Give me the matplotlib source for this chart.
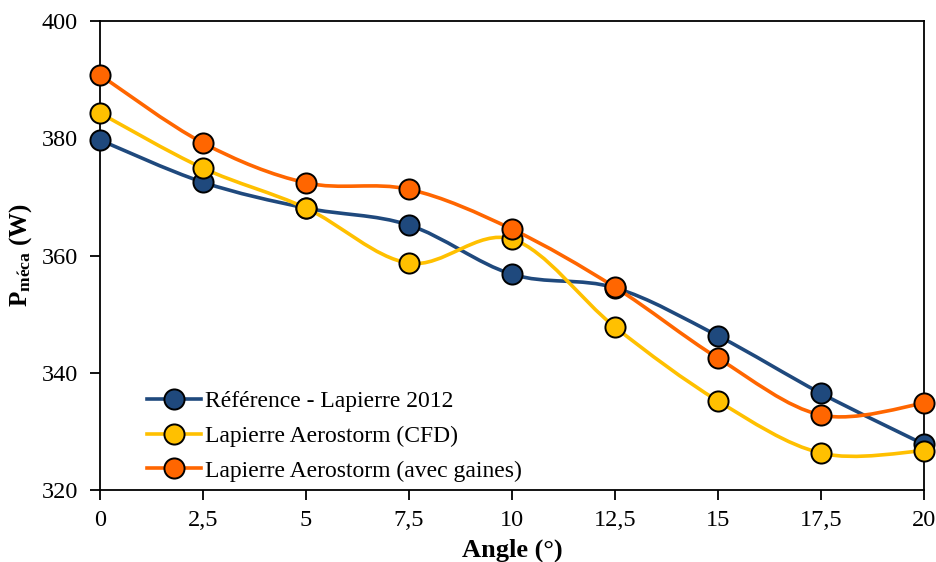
import numpy as np
import matplotlib
matplotlib.use("Agg")
import matplotlib.pyplot as plt
from matplotlib.path import Path
from matplotlib.patches import PathPatch

angles = [0, 2.5, 5, 7.5, 10, 12.5, 15, 17.5, 20]
ref_2012 = [379.7, 372.5, 368.1, 365.2, 356.8, 354.5, 346.3, 336.5, 327.8]
cfd = [384.3, 374.9, 368.1, 358.7, 362.8, 347.8, 335.2, 326.3, 326.7]
gaines = [390.8, 379.2, 372.4, 371.3, 364.5, 354.6, 342.5, 332.8, 334.8]
labels = ["Référence - Lapierre 2012", "Lapierre Aerostorm (CFD)", "Lapierre Aerostorm (avec gaines)"]
colors = ["#1F497D", "#FFC000", "#FF6600"]
xticks = [0, 2.5, 5, 7.5, 10, 12.5, 15, 17.5, 20]
xticklabels = ["0", "2,5", "5", "7,5", "10", "12,5", "15", "17,5", "20"]
yticks = [320, 340, 360, 380, 400]

plt.rcParams['font.family'] = ['Liberation Serif', 'DejaVu Serif']
plt.rcParams['mathtext.fontset'] = 'custom'
plt.rcParams['mathtext.rm'] = 'Liberation Serif'
plt.rcParams['mathtext.bf'] = 'Liberation Serif:bold'
plt.rcParams['mathtext.it'] = 'Liberation Serif:italic'

fig = plt.figure(figsize=(9.37, 5.62), dpi=100)
ax = fig.add_axes([0.1067, 0.128, 0.8794, 0.8346])


def smooth_path(x, y):
    # Excel-style smoothed line: cubic Bezier segments with Catmull-Rom control points
    x = np.asarray(x, float)
    y = np.asarray(y, float)
    n = len(x)
    verts = [(x[0], y[0])]
    codes = [Path.MOVETO]
    for i in range(n - 1):
        p0 = np.array([x[max(i - 1, 0)], y[max(i - 1, 0)]])
        p1 = np.array([x[i], y[i]])
        p2 = np.array([x[i + 1], y[i + 1]])
        p3 = np.array([x[min(i + 2, n - 1)], y[min(i + 2, n - 1)]])
        c1 = p1 + (p2 - p0) / 6.0
        c2 = p2 - (p3 - p1) / 6.0
        verts += [tuple(c1), tuple(c2), tuple(p2)]
        codes += [Path.CURVE4] * 3
    return Path(verts, codes)


for series, c, lab in zip([ref_2012, cfd, gaines], colors, labels):
    patch = PathPatch(smooth_path(angles, series), facecolor='none', edgecolor=c, lw=2.6,
                      zorder=2, clip_on=False)
    ax.add_patch(patch)
    ax.plot(angles, series, linestyle='none', marker='o', ms=14.5, mfc=c, mec='black', mew=1.4,
            zorder=3, clip_on=False)
    ax.plot([], [], color=c, lw=2.6, marker='o', ms=14.5, mfc=c, mec='black', mew=1.4, label=lab)

ax.set_xlim(0, 20)
ax.set_ylim(320, 400)
ax.set_xticks(xticks)
ax.set_xticklabels(xticklabels)
ax.set_yticks(yticks)
ax.tick_params(direction='out', length=7, width=1.3, labelsize=17.5)
ax.tick_params(axis='x', pad=7)
ax.tick_params(axis='y', pad=9)
for s in ax.spines.values():
    s.set_linewidth(1.3)

ax.set_xlabel("Angle (°)", fontsize=19, fontweight='bold', labelpad=6)
ax.set_ylabel(r"$\mathbf{P_{m\acute{e}ca}}$ (W)", fontsize=18, fontweight='bold', labelpad=5)

leg = ax.legend(loc='lower left', bbox_to_anchor=(0.04, -0.012), frameon=False, fontsize=17,
                handlelength=2.3, handletextpad=0.15, labelspacing=0.55, borderaxespad=0.2)

fig.savefig("out.png", dpi=100)
